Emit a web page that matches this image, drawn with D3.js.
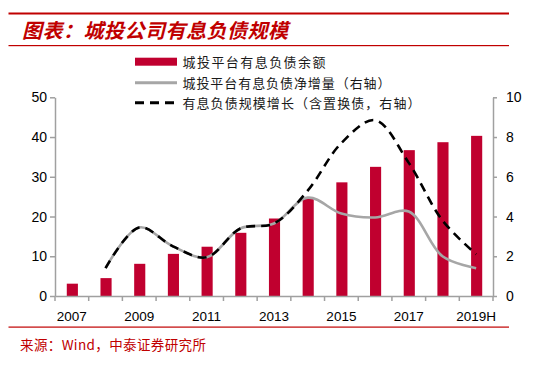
<!DOCTYPE html>
<html>
<head>
<meta charset="utf-8">
<script src="https://cdn.jsdelivr.net/npm/d3@7"></script>
<style>
  html, body { margin: 0; padding: 0; background: #fff; }
  svg { display: block; }
</style>
</head>
<body>
<svg id="chart" width="536" height="365"></svg>
<script>
const categories = ["2007","2008","2009","2010","2011","2012","2013","2014","2015","2016","2017","2018","2019H"];
const debtBalance = [3.1, 4.5, 8.1, 10.6, 12.4, 15.9, 19.5, 24.6, 28.6, 32.5, 36.7, 38.7, 40.3];
const netIncrease = [null, 1.4, 3.45, 2.5, 1.95, 3.4, 3.65, 4.95, 4.15, 3.95, 4.25, 2.0, 1.4];
const scaleGrowth = [null, 1.4, 3.45, 2.5, 1.95, 3.4, 3.65, 5.3, 7.7, 8.85, 6.7, 3.8, 2.1];
const leftTicks = [0, 10, 20, 30, 40, 50];
const rightTicks = [0, 2, 4, 6, 8, 10];
const xLabelShown = ["2007","2009","2011","2013","2015","2017","2019H"];
const legendLabels = ["城投平台有息负债余额", "城投平台有息负债净增量（右轴）", "有息负债规模增长（含置换债，右轴）"];
const titleText = "图表：城投公司有息负债规模";
const sourceText = "来源：Wind，中泰证券研究所";

const RED = "#c00000";
const BAR = "#c0002f";
const GRAY = "#a6a6a6";
const AXIS = "#a0a0a0";
const cjk = "'Noto Sans CJK SC', sans-serif";
const latin = "'Liberation Sans', Arial, sans-serif";

const svg = d3.select("#chart");

// fit a text element to a target width by adjusting letter-spacing
function fitWidth(sel, target) {
  sel.each(function() {
    const n = this.textContent.length;
    const len = this.getComputedTextLength();
    if (len > 0 && n > 1) {
      const ls = (target - len) / (n - 1);
      d3.select(this).attr("letter-spacing", ls.toFixed(2));
    }
  });
}

// frame lines
svg.append("rect").attr("x", 8.5).attr("y", 12.5).attr("width", 500.5).attr("height", 2).attr("fill", RED);
svg.append("rect").attr("x", 8.5).attr("y", 45).attr("width", 500.5).attr("height", 1.2).attr("fill", RED);
svg.append("rect").attr("x", 8.5).attr("y", 326.5).attr("width", 500.5).attr("height", 1.2).attr("fill", RED);

const title = svg.append("text").attr("x", 22).attr("y", 37.5)
  .style("font-family", cjk).style("font-size", "20px").style("font-weight", "bold")
  .style("font-style", "italic").attr("fill", RED).text(titleText);
fitWidth(title, 266);

const src = svg.append("text").attr("x", 20).attr("y", 344).attr("dominant-baseline", "central")
  .style("font-family", cjk).style("font-size", "13.5px").attr("fill", RED).text(sourceText);
fitWidth(src, 186);

// scales
const x = d3.scaleBand().domain(categories).range([55, 493]).padding(0);
const yL = d3.scaleLinear().domain([0, 50]).range([296, 97.3]);
const yR = d3.scaleLinear().domain([0, 10]).range([296, 97.3]);

// bars
const bw = x.bandwidth() * 0.33;
svg.append("g").selectAll("rect").data(categories).join("rect")
  .attr("x", d => x(d) + x.bandwidth() / 2 - bw / 2 + 0.5)
  .attr("y", (d, i) => yL(debtBalance[i]))
  .attr("width", bw)
  .attr("height", (d, i) => yL(0) - yL(debtBalance[i]))
  .attr("fill", BAR);

// lines
const mk = arr => d3.line()
  .defined(d => d.v != null)
  .x(d => x(d.c) + x.bandwidth() / 2)
  .y(d => yR(d.v))
  .curve(d3.curveCatmullRom.alpha(0.5))(categories.map((c, i) => ({c, v: arr[i]})));

svg.append("path").attr("d", mk(netIncrease)).attr("fill", "none")
  .attr("stroke", GRAY).attr("stroke-width", 2.6);
svg.append("path").attr("d", mk(scaleGrowth)).attr("fill", "none")
  .attr("stroke", "#000").attr("stroke-width", 2.6).attr("stroke-dasharray", "9,6");

// axes
function styleAxis(g) {
  g.select(".domain").attr("stroke", AXIS).attr("stroke-width", 1.5);
  g.selectAll(".tick line").attr("stroke", AXIS).attr("stroke-width", 1.5);
  g.selectAll("text").attr("fill", "#000").attr("font-family", latin);
}
const gL = svg.append("g").attr("transform", "translate(55,0)")
  .call(d3.axisLeft(yL).tickValues(leftTicks).tickSize(5).tickSizeOuter(0).tickPadding(3));
styleAxis(gL); gL.selectAll("text").attr("font-size", 14);

const gR = svg.append("g").attr("transform", "translate(493,0)")
  .call(d3.axisRight(yR).tickValues(rightTicks).tickSize(4).tickSizeOuter(0).tickPadding(9));
styleAxis(gR); gR.selectAll("text").attr("font-size", 14);

const gX = svg.append("g").attr("transform", "translate(0,296)")
  .call(d3.axisBottom(x).tickValues(xLabelShown).tickSize(0).tickPadding(14));
styleAxis(gX); gX.selectAll("text").attr("font-size", 13.5);
gX.selectAll(".tick text").attr("dy", "0.35em").attr("y", 20);
const bounds = categories.map(c => x(c)).concat([x.range()[1]]);
gX.selectAll("line.bt").data(bounds).join("line").attr("class", "bt")
  .attr("x1", d => d).attr("x2", d => d).attr("y1", 0).attr("y2", 5)
  .attr("stroke", AXIS).attr("stroke-width", 1.5);

// legend
const lg = svg.append("g");
const rows = [61.7, 82.7, 102.7];
const legendWidths = [143, 208, 238];
lg.append("rect").attr("x", 135).attr("y", rows[0] - 4).attr("width", 42).attr("height", 8).attr("fill", BAR);
lg.append("line").attr("x1", 135).attr("x2", 177).attr("y1", rows[1]).attr("y2", rows[1])
  .attr("stroke", GRAY).attr("stroke-width", 3);
lg.append("line").attr("x1", 135).attr("x2", 177).attr("y1", rows[2]).attr("y2", rows[2])
  .attr("stroke", "#000").attr("stroke-width", 3).attr("stroke-dasharray", "9,6");
lg.selectAll("text").data(legendLabels).join("text")
  .attr("x", 182.5).attr("y", (d, i) => rows[i]).attr("dominant-baseline", "central")
  .style("font-family", cjk).style("font-size", "13px")
  .attr("fill", "#1a1a1a").text(d => d)
  .each(function(d, i) { fitWidth(d3.select(this), legendWidths[i]); });
</script>
</body>
</html>
